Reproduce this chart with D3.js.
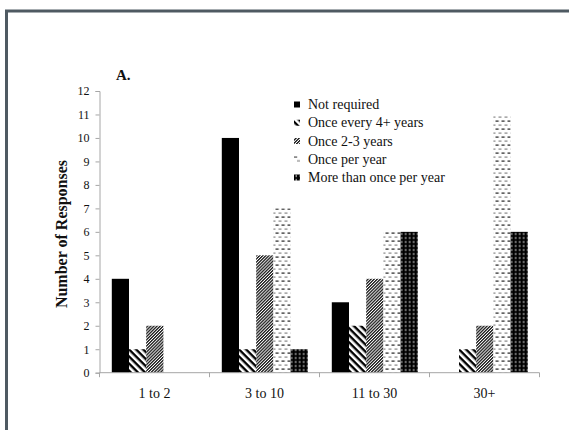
<!DOCTYPE html>
<html>
<head>
<meta charset="utf-8">
<script src="https://cdn.jsdelivr.net/npm/d3@7"></script>
<style>
  html, body { margin: 0; padding: 0; background: #fff; }
  svg { display: block; }
  svg text { font-family: "Liberation Serif", "Times New Roman", serif; }
</style>
</head>
<body>
<div id="chart"></div>
<script>
const categories = ["1 to 2", "3 to 10", "11 to 30", "30+"];
const seriesNames = ["Not required", "Once every 4+ years", "Once 2-3 years", "Once per year", "More than once per year"];
const notRequired   = [4, 10, 3, 0];
const every4Years   = [1, 1, 2, 1];
const every2to3     = [2, 5, 4, 2];
const oncePerYear   = [0, 7, 6, 11];
const moreThanOnce  = [0, 1, 6, 6];
const yTicks = [0,1,2,3,4,5,6,7,8,9,10,11,12];
const seriesValues = [notRequired, every4Years, every2to3, oncePerYear, moreThanOnce];

const W = 569, H = 430;
const FONT = "'Liberation Serif', 'Times New Roman', serif";
const svg = d3.select("#chart").append("svg").attr("width", W).attr("height", H)
  .attr("font-family", FONT);

// patterns
const defs = svg.append("defs");
// diagonal thick stripes "\"
const p1 = defs.append("pattern").attr("id", "pat1").attr("patternUnits", "userSpaceOnUse")
  .attr("width", 5).attr("height", 5).attr("patternTransform", "rotate(45)");
p1.append("rect").attr("width", 5).attr("height", 5).attr("fill", "#fff");
p1.append("rect").attr("width", 5).attr("height", 2.4).attr("fill", "#000");
// fine "/" stripes
const p2 = defs.append("pattern").attr("id", "pat2").attr("patternUnits", "userSpaceOnUse")
  .attr("width", 2.2).attr("height", 2.2).attr("patternTransform", "rotate(-45)");
p2.append("rect").attr("width", 2.2).attr("height", 2.2).attr("fill", "#fff");
p2.append("rect").attr("width", 2.2).attr("height", 1.3).attr("fill", "#1a1a1a");
// dashed rows
const p3 = defs.append("pattern").attr("id", "pat3").attr("patternUnits", "userSpaceOnUse")
  .attr("width", 6).attr("height", 8);
p3.append("rect").attr("width", 6).attr("height", 8).attr("fill", "#fff");
p3.append("rect").attr("x", 0).attr("y", 0.5).attr("width", 3.2).attr("height", 1.2).attr("fill", "#222");
p3.append("rect").attr("x", 3).attr("y", 4.5).attr("width", 3.2).attr("height", 1.2).attr("fill", "#888");
// black with dots
const p4 = defs.append("pattern").attr("id", "pat4").attr("patternUnits", "userSpaceOnUse")
  .attr("width", 4).attr("height", 4);
p4.append("rect").attr("width", 4).attr("height", 4).attr("fill", "#000");
p4.append("rect").attr("x", 1.5).attr("y", 0.8).attr("width", 1.5).attr("height", 2.4).attr("fill", "#8a8a8a");

const fills = ["#000", "url(#pat1)", "url(#pat2)", "url(#pat3)", "url(#pat4)"];

// frame
svg.append("path").attr("d", `M6.5,${H} L6.5,11 L${W},11`)
  .attr("fill", "none").attr("stroke", "#4f5a62").attr("stroke-width", 3);

const x0 = d3.scaleBand().domain(categories).range([99.5, 539.5]).padding(0);
const x1 = d3.scaleBand().domain(d3.range(seriesNames.length)).range([12.3, 98.3]).padding(0);
const y = d3.scaleLinear().domain([0, 12]).range([372.7, 91]);

// bars
const groups = svg.append("g").selectAll("g").data(categories).join("g")
  .attr("transform", d => `translate(${x0(d)},0)`);
groups.selectAll("rect")
  .data((d, ci) => seriesValues.map((vals, si) => ({ si, v: vals[ci] })))
  .join("rect")
  .attr("x", d => x1(d.si))
  .attr("width", x1.bandwidth())
  .attr("y", d => y(d.v))
  .attr("height", d => y(0) - y(d.v))
  .attr("fill", d => fills[d.si]);

// y axis
const yAxis = svg.append("g").attr("transform", "translate(99.5,0)")
  .call(d3.axisLeft(y).tickValues(yTicks).tickSize(4).tickPadding(6).tickFormat(d3.format("d")))
  .attr("font-family", FONT);
yAxis.select(".domain").attr("stroke", "#a6a6a6");
yAxis.selectAll(".tick line").attr("stroke", "#a6a6a6");
yAxis.selectAll("text").attr("font-size", 12).attr("fill", "#111");

// x axis
const xAxis = svg.append("g").attr("transform", `translate(0,${y(0)})`)
  .call(d3.axisBottom(x0).tickSize(0).tickPadding(15))
  .attr("font-family", FONT);
xAxis.select(".domain").attr("stroke", "#a6a6a6").attr("d", "M99.5,0H539.5");
xAxis.selectAll("text").attr("font-size", 14).attr("fill", "#111");
// boundary ticks
const bounds = categories.map(c => x0(c)).concat([x0.range()[1]]);
svg.append("g").selectAll("line").data(bounds).join("line")
  .attr("x1", d => d).attr("x2", d => d)
  .attr("y1", y(0)).attr("y2", y(0) + 4.5)
  .attr("stroke", "#a6a6a6");

// y title
svg.append("text")
  .attr("transform", "translate(67,234) rotate(-90)")
  .attr("text-anchor", "middle")
  .attr("font-size", 16).attr("font-weight", "bold").attr("fill", "#111")
  .text("Number of Responses");

// panel label
svg.append("text").attr("x", 116).attr("y", 80)
  .attr("font-size", 15).attr("font-weight", "bold").attr("fill", "#111")
  .text("A.");

// legend
const leg = svg.append("g").selectAll("g").data(seriesNames).join("g")
  .attr("transform", (d, i) => `translate(294,${109 + i * 18.25})`);
leg.append("rect").attr("x", 0).attr("y", -7.5).attr("width", 6).attr("height", 6)
  .attr("fill", (d, i) => fills[i]);
leg.append("text").attr("x", 14).attr("y", 0)
  .attr("font-size", 14).attr("fill", "#111").text(d => d);
</script>
</body>
</html>
